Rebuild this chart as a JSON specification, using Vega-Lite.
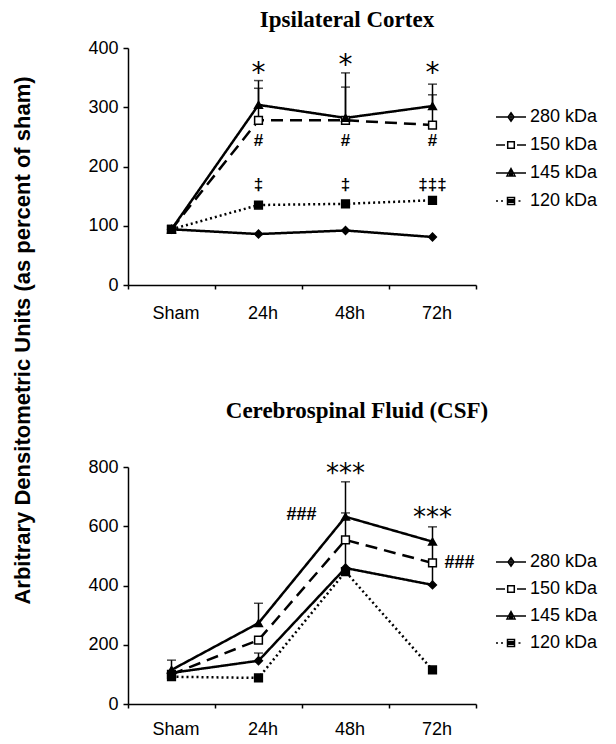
{
  "$schema": "https://vega.github.io/schema/vega-lite/v6.json",
  "autosize": "none",
  "padding": {"left": 128, "top": 48, "right": 488, "bottom": 696},
  "background": "white",
  "config": {
    "view": {"stroke": null},
    "font": "Liberation Sans",
    "axis": {"labelColor": "black", "tickColor": "black", "domainColor": "black", "grid": false, "labelFont": "Liberation Sans", "labelFontSize": 18, "domainWidth": 1.5, "tickWidth": 1.5}
  },
  "datasets": {
    "cortex": [
      {"series": "280 kDa", "time": "Sham", "v": 94},
      {"series": "280 kDa", "time": "24h", "v": 86},
      {"series": "280 kDa", "time": "48h", "v": 92},
      {"series": "280 kDa", "time": "72h", "v": 81},
      {"series": "150 kDa", "time": "Sham", "v": 94},
      {"series": "150 kDa", "time": "24h", "v": 278},
      {"series": "150 kDa", "time": "48h", "v": 278},
      {"series": "150 kDa", "time": "72h", "v": 270},
      {"series": "145 kDa", "time": "Sham", "v": 94},
      {"series": "145 kDa", "time": "24h", "v": 304},
      {"series": "145 kDa", "time": "48h", "v": 282},
      {"series": "145 kDa", "time": "72h", "v": 302},
      {"series": "120 kDa", "time": "Sham", "v": 94},
      {"series": "120 kDa", "time": "24h", "v": 135},
      {"series": "120 kDa", "time": "48h", "v": 137},
      {"series": "120 kDa", "time": "72h", "v": 143}
    ],
    "cortexErr": [
      {"time": "24h", "lo": 304, "hi": 345},
      {"time": "24h", "lo": 278, "hi": 332},
      {"time": "48h", "lo": 282, "hi": 358},
      {"time": "48h", "lo": 278, "hi": 334},
      {"time": "72h", "lo": 302, "hi": 339},
      {"time": "72h", "lo": 270, "hi": 321}
    ],
    "cortexNote": [
      {"time": "24h", "v": 356, "label": "*", "kind": "star"},
      {"time": "48h", "v": 370, "label": "*", "kind": "star"},
      {"time": "72h", "v": 356, "label": "*", "kind": "star"},
      {"time": "24h", "v": 243, "label": "#", "kind": "mark"},
      {"time": "48h", "v": 243, "label": "#", "kind": "mark"},
      {"time": "72h", "v": 243, "label": "#", "kind": "mark"},
      {"time": "24h", "v": 169, "label": "‡", "kind": "mark"},
      {"time": "48h", "v": 169, "label": "‡", "kind": "mark"},
      {"time": "72h", "v": 169, "label": "‡‡‡", "kind": "mark"}
    ],
    "csf": [
      {"series": "280 kDa", "time": "Sham", "v": 105},
      {"series": "280 kDa", "time": "24h", "v": 146},
      {"series": "280 kDa", "time": "48h", "v": 459},
      {"series": "280 kDa", "time": "72h", "v": 402},
      {"series": "150 kDa", "time": "Sham", "v": 100},
      {"series": "150 kDa", "time": "24h", "v": 216},
      {"series": "150 kDa", "time": "48h", "v": 554},
      {"series": "150 kDa", "time": "72h", "v": 476},
      {"series": "145 kDa", "time": "Sham", "v": 115},
      {"series": "145 kDa", "time": "24h", "v": 273},
      {"series": "145 kDa", "time": "48h", "v": 632},
      {"series": "145 kDa", "time": "72h", "v": 548},
      {"series": "120 kDa", "time": "Sham", "v": 92},
      {"series": "120 kDa", "time": "24h", "v": 88},
      {"series": "120 kDa", "time": "48h", "v": 447},
      {"series": "120 kDa", "time": "72h", "v": 115}
    ],
    "csfErr": [
      {"time": "Sham", "lo": 115, "hi": 148},
      {"time": "24h", "lo": 273, "hi": 340},
      {"time": "24h", "lo": 146, "hi": 172},
      {"time": "48h", "lo": 459, "hi": 750},
      {"time": "48h", "lo": 632, "hi": 645},
      {"time": "72h", "lo": 402, "hi": 598}
    ],
    "csfNote": [
      {"time": "48h", "v": 776, "label": "***", "kind": "star"},
      {"time": "72h", "v": 628, "label": "***", "kind": "star"},
      {"time": "48h", "v": 638, "label": "###", "kind": "hashL"},
      {"time": "72h", "v": 476, "label": "###", "kind": "hashR"}
    ]
  },
  "spacing": 182,
  "bounds": "flush",
  "resolve": {"scale": {"x": "independent", "y": "independent", "shape": "independent", "strokeDash": "independent", "fill": "independent"}, "legend": {"shape": "independent"}},
  "vconcat": [
    {
      "width": 348,
      "height": 237,
      "title": {"text": "Ipsilateral Cortex", "font": "Liberation Serif", "fontSize": 23, "fontWeight": "bold", "color": "black", "anchor": "middle", "frame": "group", "dx": 45, "offset": -11, "baseline": "alphabetic"},
      "resolve": {"scale": {"shape": "independent"}, "legend": {"shape": "independent"}},
      "layer": [
        {
          "data": {"name": "cortex"},
          "mark": {"type": "line", "color": "black", "strokeWidth": 2.5},
          "encoding": {
            "x": {"field": "time", "type": "ordinal", "scale": {"domain": ["Sham", "24h", "48h", "72h"], "paddingInner": 0, "paddingOuter": 0}, "axis": {"title": null, "labelAngle": 0, "tickBand": "extent", "tickSize": 4, "labelPadding": 15, "labelOffset": 4}},
            "y": {"field": "v", "type": "quantitative", "scale": {"domain": [0, 400], "nice": false}, "axis": {"values": [0, 100, 200, 300, 400], "tickSize": 5, "labelPadding": 5, "title": "Arbitrary Densitometric Units (as percent of sham)", "titleFont": "Liberation Sans", "titleFontSize": 22, "titleFontWeight": "bold", "titleColor": "black", "titleAngle": 270, "titleX": -106, "titleY": 292, "titleAlign": "center", "titleBaseline": "middle"}},
            "strokeDash": {"field": "series", "type": "nominal", "scale": {"domain": ["280 kDa", "150 kDa", "145 kDa", "120 kDa"], "range": [[1, 0], [12, 7], [1, 0], [2, 3]]}, "legend": null}
          }
        },
        {
          "data": {"name": "cortexErr"},
          "mark": {"type": "rule", "color": "black", "strokeWidth": 1.5},
          "encoding": {
            "x": {"field": "time", "type": "ordinal"},
            "y": {"field": "lo", "type": "quantitative"},
            "y2": {"field": "hi"}
          }
        },
        {
          "data": {"name": "cortexErr"},
          "mark": {"type": "tick", "color": "black", "thickness": 1.5, "size": 9, "orient": "horizontal"},
          "encoding": {
            "x": {"field": "time", "type": "ordinal"},
            "y": {"field": "hi", "type": "quantitative"}
          }
        },
        {
          "data": {"name": "cortex"},
          "mark": {"type": "point", "filled": true, "stroke": "black", "strokeWidth": 1.5, "opacity": 1, "size": 60},
          "encoding": {
            "x": {"field": "time", "type": "ordinal"},
            "y": {"field": "v", "type": "quantitative"},
            "shape": {"field": "series", "type": "nominal", "scale": {"domain": ["280 kDa", "150 kDa", "145 kDa", "120 kDa"], "range": ["diamond", "square", "triangle-up", "square"]}, "legend": null},
            "fill": {"field": "series", "type": "nominal", "scale": {"domain": ["280 kDa", "150 kDa", "145 kDa", "120 kDa"], "range": ["black", "white", "black", "black"]}, "legend": null}
          }
        },
        {
          "data": {"name": "cortexNote"},
          "transform": [{"filter": "datum.kind === 'star'"}],
          "mark": {"type": "text", "font": "DejaVu Sans", "fontSize": 28, "color": "black", "baseline": "middle"},
          "encoding": {
            "x": {"field": "time", "type": "ordinal"},
            "y": {"field": "v", "type": "quantitative"},
            "text": {"field": "label"}
          }
        },
        {
          "data": {"name": "cortexNote"},
          "transform": [{"filter": "datum.kind === 'mark'"}],
          "mark": {"type": "text", "font": "Liberation Sans", "fontSize": 17, "fontWeight": "bold", "color": "black", "baseline": "middle"},
          "encoding": {
            "x": {"field": "time", "type": "ordinal"},
            "y": {"field": "v", "type": "quantitative"},
            "text": {"field": "label"}
          }
        },
        {
          "data": {"name": "cortex"},
          "transform": [{"filter": "datum.time === 'Sham'"}],
          "mark": {"type": "point", "filled": false, "color": "black", "opacity": 0},
          "encoding": {
            "x": {"field": "time", "type": "ordinal"},
            "y": {"field": "v", "type": "quantitative"},
            "shape": {"field": "series", "type": "nominal", "scale": {"domain": ["280 kDa", "150 kDa", "145 kDa", "120 kDa"], "range": [
              "M-1.5,0L1.5,0M0,-0.42L0.3,0L0,0.42L-0.3,0ZM0,-0.3L0,0.3",
              "M-1.5,0L-0.6,0M0.6,0L1.5,0M-0.33,-0.33L0.33,-0.33L0.33,0.33L-0.33,0.33Z",
              "M-1.5,0L1.5,0M0,-0.45L0.4,0.3L-0.4,0.3ZM0,-0.3L0,0.3M-0.2,0.15L0.2,0.15",
              "M-1.5,0L-1.3,0M-1.0,0L-0.8,0M0.75,0L0.95,0M-0.35,-0.35L0.35,-0.35L0.35,0.35L-0.35,0.35ZM-0.35,-0.12L0.35,-0.12M-0.35,0.12L0.35,0.12M-0.35,0L0.35,0"
            ]}, "legend": {"title": null, "orient": "none", "legendX": 372, "legendY": 58, "padding": 0, "symbolSize": 400, "labelFont": "Liberation Sans", "labelFontSize": 18, "labelColor": "black", "labelOffset": 8, "rowPadding": 8,
              "encode": {"symbols": {"update": {"stroke": {"value": "black"}, "strokeWidth": {"value": 2.2}, "opacity": {"value": 1}}}}}}
          }
        }
      ]
    },
    {
      "width": 348,
      "height": 237,
      "title": {"text": "Cerebrospinal Fluid (CSF)", "font": "Liberation Serif", "fontSize": 23, "fontWeight": "bold", "color": "black", "anchor": "middle", "frame": "group", "dx": 55, "offset": 17, "baseline": "alphabetic"},
      "resolve": {"scale": {"shape": "independent"}, "legend": {"shape": "independent"}},
      "layer": [
        {
          "data": {"name": "csf"},
          "mark": {"type": "line", "color": "black", "strokeWidth": 2.5},
          "encoding": {
            "x": {"field": "time", "type": "ordinal", "scale": {"domain": ["Sham", "24h", "48h", "72h"], "paddingInner": 0, "paddingOuter": 0}, "axis": {"title": null, "labelAngle": 0, "tickBand": "extent", "tickSize": 4, "labelPadding": 12, "labelOffset": 4}},
            "y": {"field": "v", "type": "quantitative", "scale": {"domain": [0, 800], "nice": false}, "axis": {"values": [0, 200, 400, 600, 800], "tickSize": 5, "labelPadding": 5, "title": null}},
            "strokeDash": {"field": "series", "type": "nominal", "scale": {"domain": ["280 kDa", "150 kDa", "145 kDa", "120 kDa"], "range": [[1, 0], [12, 7], [1, 0], [2, 3]]}, "legend": null}
          }
        },
        {
          "data": {"name": "csfErr"},
          "mark": {"type": "rule", "color": "black", "strokeWidth": 1.5},
          "encoding": {
            "x": {"field": "time", "type": "ordinal"},
            "y": {"field": "lo", "type": "quantitative"},
            "y2": {"field": "hi"}
          }
        },
        {
          "data": {"name": "csfErr"},
          "mark": {"type": "tick", "color": "black", "thickness": 1.5, "size": 9, "orient": "horizontal"},
          "encoding": {
            "x": {"field": "time", "type": "ordinal"},
            "y": {"field": "hi", "type": "quantitative"}
          }
        },
        {
          "data": {"name": "csf"},
          "mark": {"type": "point", "filled": true, "stroke": "black", "strokeWidth": 1.5, "opacity": 1, "size": 60},
          "encoding": {
            "x": {"field": "time", "type": "ordinal"},
            "y": {"field": "v", "type": "quantitative"},
            "shape": {"field": "series", "type": "nominal", "scale": {"domain": ["280 kDa", "150 kDa", "145 kDa", "120 kDa"], "range": ["diamond", "square", "triangle-up", "square"]}, "legend": null},
            "fill": {"field": "series", "type": "nominal", "scale": {"domain": ["280 kDa", "150 kDa", "145 kDa", "120 kDa"], "range": ["black", "white", "black", "black"]}, "legend": null}
          }
        },
        {
          "data": {"name": "csfNote"},
          "transform": [{"filter": "datum.kind === 'star'"}],
          "mark": {"type": "text", "font": "DejaVu Sans", "fontSize": 26, "color": "black", "baseline": "middle"},
          "encoding": {
            "x": {"field": "time", "type": "ordinal"},
            "y": {"field": "v", "type": "quantitative"},
            "text": {"field": "label"}
          }
        },
        {
          "data": {"name": "csfNote"},
          "transform": [{"filter": "datum.kind === 'hashL'"}],
          "mark": {"type": "text", "font": "Liberation Sans", "fontSize": 18, "fontWeight": "bold", "color": "black", "baseline": "middle", "align": "right", "dx": -29},
          "encoding": {
            "x": {"field": "time", "type": "ordinal"},
            "y": {"field": "v", "type": "quantitative"},
            "text": {"field": "label"}
          }
        },
        {
          "data": {"name": "csfNote"},
          "transform": [{"filter": "datum.kind === 'hashR'"}],
          "mark": {"type": "text", "font": "Liberation Sans", "fontSize": 18, "fontWeight": "bold", "color": "black", "baseline": "middle", "align": "left", "dx": 12},
          "encoding": {
            "x": {"field": "time", "type": "ordinal"},
            "y": {"field": "v", "type": "quantitative"},
            "text": {"field": "label"}
          }
        },
        {
          "data": {"name": "csf"},
          "transform": [{"filter": "datum.time === 'Sham'"}],
          "mark": {"type": "point", "filled": false, "color": "black", "opacity": 0},
          "encoding": {
            "x": {"field": "time", "type": "ordinal"},
            "y": {"field": "v", "type": "quantitative"},
            "shape": {"field": "series", "type": "nominal", "scale": {"domain": ["280 kDa", "150 kDa", "145 kDa", "120 kDa"], "range": [
              "M-1.5,0L1.5,0M0,-0.42L0.3,0L0,0.42L-0.3,0ZM0,-0.3L0,0.3",
              "M-1.5,0L-0.6,0M0.6,0L1.5,0M-0.33,-0.33L0.33,-0.33L0.33,0.33L-0.33,0.33Z",
              "M-1.5,0L1.5,0M0,-0.45L0.4,0.3L-0.4,0.3ZM0,-0.3L0,0.3M-0.2,0.15L0.2,0.15",
              "M-1.5,0L-1.3,0M-1.0,0L-0.8,0M0.75,0L0.95,0M-0.35,-0.35L0.35,-0.35L0.35,0.35L-0.35,0.35ZM-0.35,-0.12L0.35,-0.12M-0.35,0.12L0.35,0.12M-0.35,0L0.35,0"
            ]}, "legend": {"title": null, "orient": "none", "legendX": 372, "legendY": 84, "padding": 0, "symbolSize": 400, "labelFont": "Liberation Sans", "labelFontSize": 18, "labelColor": "black", "labelOffset": 8, "rowPadding": 7,
              "encode": {"symbols": {"update": {"stroke": {"value": "black"}, "strokeWidth": {"value": 2.2}, "opacity": {"value": 1}}}}}}
          }
        }
      ]
    }
  ]
}
